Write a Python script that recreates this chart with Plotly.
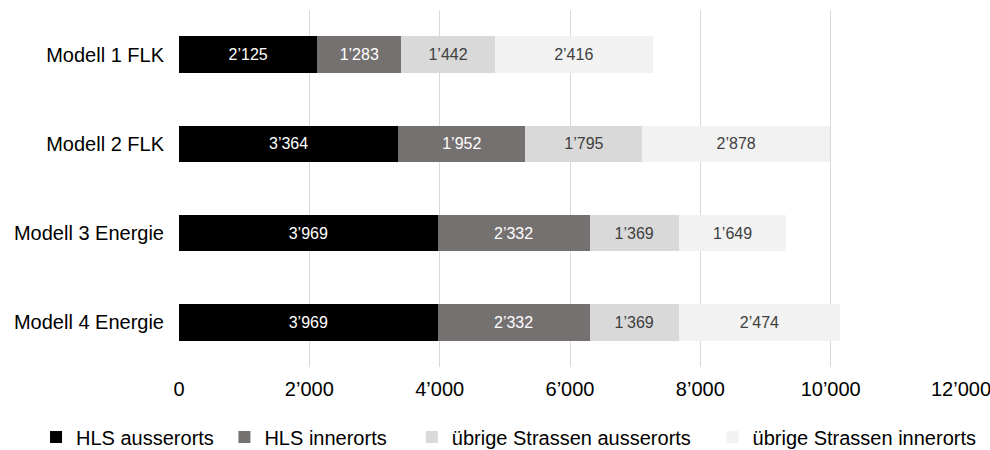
import plotly.graph_objects as go

# Models (top to bottom) and the four road-type components
models = ["Modell 1 FLK", "Modell 2 FLK", "Modell 3 Energie", "Modell 4 Energie"]
series_names = ["HLS ausserorts", "HLS innerorts",
                "übrige Strassen ausserorts", "übrige Strassen innerorts"]
hls_ausserorts = [2125, 3364, 3969, 3969]
hls_innerorts = [1283, 1952, 2332, 2332]
uebrige_ausserorts = [1442, 1795, 1369, 1369]
uebrige_innerorts = [2416, 2878, 1649, 2474]
x_ticks = [0, 2000, 4000, 6000, 8000, 10000, 12000]

values = [hls_ausserorts, hls_innerorts, uebrige_ausserorts, uebrige_innerorts]
fills = ["#000000", "#767171", "#d9d9d9", "#f2f2f2"]
label_colors = ["#ffffff", "#ffffff", "#404040", "#404040"]
# the legend row is split in two groups so it never wraps
legend_group = ["legend", "legend", "legend2", "legend2"]
# extra no-break spaces widen the gap after a legend entry
legend_pad = [1, 0, 3, 0]

FONT = "Liberation Sans, Arial, sans-serif"

fig = go.Figure()
for name, vals, fill, lc, lg, pad in zip(series_names, values, fills, label_colors,
                                        legend_group, legend_pad):
    fig.add_trace(go.Bar(
        y=models, x=vals, name=name + "\u00a0" * pad, orientation="h",
        marker=dict(color=fill, line=dict(width=0)),
        texttemplate="%{x:,}", textposition="inside",
        insidetextanchor="middle",
        textfont=dict(family=FONT, size=16, color=lc),
        legend=lg, hoverinfo="skip",
    ))

legend_common = dict(orientation="h", xref="container", yref="container",
                     xanchor="left", y=0.029, yanchor="middle",
                     font=dict(family=FONT, size=20, color="#000000"),
                     itemwidth=30, traceorder="normal", bgcolor="rgba(0,0,0,0)")

fig.update_layout(
    barmode="stack",
    bargap=0.59,
    separators=".’",
    width=990, height=450,
    margin=dict(l=179, r=29, t=10, b=83, autoexpand=False),
    paper_bgcolor="white", plot_bgcolor="white",
    font=dict(family=FONT, size=20, color="#000000"),
    uniformtext=dict(mode=False),
    legend=dict(x=0.0364, **legend_common),
    legend2=dict(x=0.416, **legend_common),
    xaxis=dict(range=[0, 12000], tickvals=x_ticks, tickformat=",",
               showgrid=True, gridcolor="#d9d9d9", gridwidth=1,
               zeroline=False, showline=False, ticks="",
               ticklabeloverflow="allow", ticklabelstandoff=8,
               tickfont=dict(size=20, color="#000000")),
    yaxis=dict(autorange="reversed", showgrid=False, showline=False, ticks="",
               ticklabelstandoff=14,
               tickfont=dict(size=20, color="#000000")),
)

fig.write_html("out.html")
